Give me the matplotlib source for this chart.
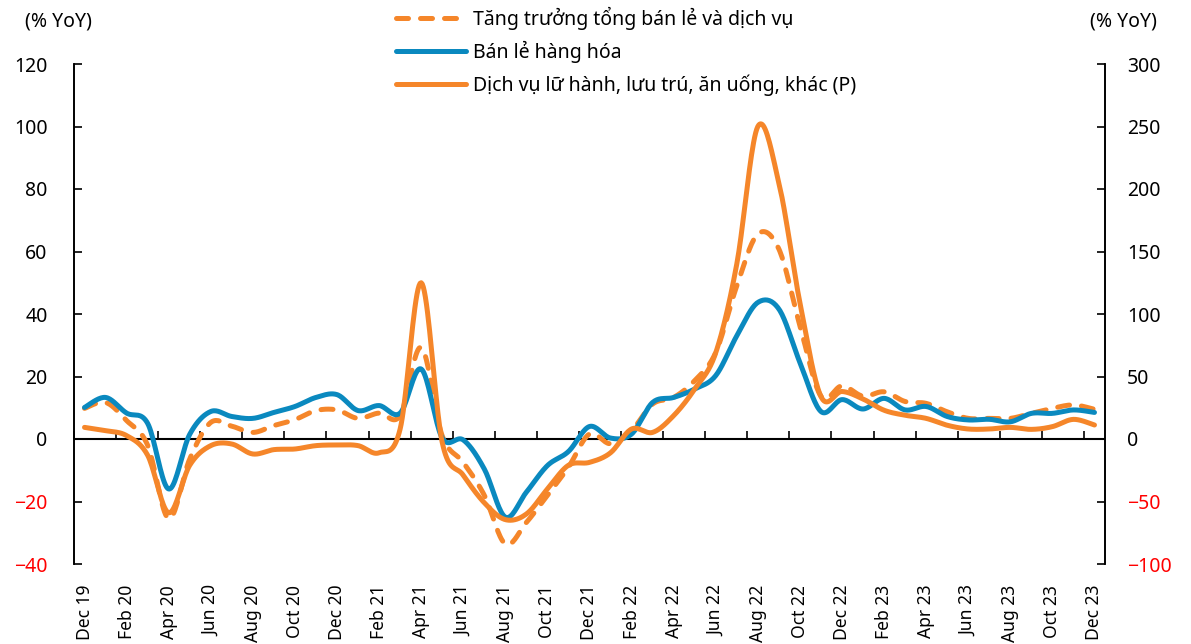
import matplotlib
matplotlib.use("Agg")
import matplotlib.pyplot as plt
import numpy as np

plt.rcParams['font.family'] = ['Noto Sans', 'DejaVu Sans']

# monthly, Dec 2019 .. Dec 2023
tick_labels = ['Dec 19', 'Feb 20', 'Apr 20', 'Jun 20', 'Aug 20', 'Oct 20', 'Dec 20',
               'Feb 21', 'Apr 21', 'Jun 21', 'Aug 21', 'Oct 21', 'Dec 21',
               'Feb 22', 'Apr 22', 'Jun 22', 'Aug 22', 'Oct 22', 'Dec 22',
               'Feb 23', 'Apr 23', 'Jun 23', 'Aug 23', 'Oct 23', 'Dec 23']

# left axis, % YoY
retail_total = [9.8, 11.7, 5.9, -2, -25.5, -6.4, 5.3, 4.1, 2.1, 4.3, 6.2, 9.1,
                9.3, 6.6, 8.3, 7.5, 29.3, 1, -7.5, -18, -33.6, -26.7, -18, -9,
                1.6, -1.5, 2.7, 11.2, 13.3, 18.7, 27.7, 49, 65.6, 60.8, 36.3, 13.7,
                17, 13.7, 15.1, 12, 11.4, 8.7, 6.6, 6.6, 6.6, 8.2, 9.8, 10.9, 9.5]
goods = [10.1, 13.3, 8.3, 5, -16, 1.5, 8.8, 7.2, 6.6, 8.5, 10.4, 13.3,
         14.2, 9.1, 10.7, 8.3, 22.4, 0.3, -0.3, -9.6, -25, -17, -8.5, -4,
         4, 0.3, 1.6, 11.7, 13.3, 16, 20.3, 33, 43.7, 41.6, 24.5, 8.8,
         12.6, 9.6, 13, 9.3, 10.4, 7.2, 6.1, 6.3, 5.5, 8.2, 8.2, 9.3, 8.5]
# right axis, % YoY
services = [9.3, 6.7, 2.7, -13, -59, -21, -5.3, -4, -12, -8.5, -8, -5.3,
            -4.8, -5.3, -11, 8, 125, -2.7, -29, -51, -64.5, -60, -40, -21,
            -18.7, -11, 8, 5.3, 18.7, 40, 69, 140, 250, 205, 109, 34,
            38, 32, 23, 19, 16.5, 11, 8, 8, 9.3, 7.7, 9.9, 15.7, 11.2]

legend_labels = ['Tăng trưởng tổng bán lẻ và dịch vụ', 'Bán lẻ hàng hóa',
                 'Dịch vụ lữ hành, lưu trú, ăn uống, khác (P)']

ORANGE = '#F5862A'
BLUE = '#0A89BF'
RED = '#FF0000'
FS = 14


def smooth(y, n=20):
    """Excel-style smoothed line (Bezier through the points)."""
    y = np.asarray(y, dtype=float)
    x = np.arange(len(y), dtype=float)
    px = np.concatenate([[x[0]], x, [x[-1]]])
    py = np.concatenate([[y[0]], y, [y[-1]]])
    t = np.linspace(0, 1, n, endpoint=False)
    xs, ys = [], []
    for i in range(len(y) - 1):
        x0, x1, x2, x3 = px[i:i + 4]
        y0, y1, y2, y3 = py[i:i + 4]
        cx1, cy1 = x1 + (x2 - x0) / 6, y1 + (y2 - y0) / 6
        cx2, cy2 = x2 - (x3 - x1) / 6, y2 - (y3 - y1) / 6
        b0, b1, b2, b3 = (1 - t) ** 3, 3 * t * (1 - t) ** 2, 3 * t ** 2 * (1 - t), t ** 3
        xs.append(b0 * x1 + b1 * cx1 + b2 * cx2 + b3 * x2)
        ys.append(b0 * y1 + b1 * cy1 + b2 * cy2 + b3 * y2)
    xs.append([x[-1]])
    ys.append([y[-1]])
    return np.concatenate(xs), np.concatenate(ys)


fig = plt.figure(figsize=(11.91, 6.44), dpi=100)
ax = fig.add_axes([74 / 1191, 1 - 564 / 644, (1105 - 74) / 1191, 500 / 644])
ax2 = ax.twinx()

n = len(goods)
l1, = ax.plot(*smooth(retail_total), color=ORANGE, lw=3.6, dashes=(2.4, 2.4),
              dash_capstyle='round', zorder=3)
l2, = ax.plot(*smooth(goods), color=BLUE, lw=3.6, solid_capstyle='round', zorder=4)
l3, = ax2.plot(*smooth(services), color=ORANGE, lw=3.6, solid_capstyle='round')

ax.set_xlim(-0.5, n - 0.5)
ax.set_ylim(-40, 120)
ax2.set_ylim(-100, 300)
ax.set_yticks(np.arange(-40, 121, 20))
ax2.set_yticks(np.arange(-100, 301, 50))

for a in (ax, ax2):
    a.spines['top'].set_visible(False)
    a.spines['bottom'].set_visible(False)
    for s in ('left', 'right'):
        a.spines[s].set_linewidth(1.2)

ax.tick_params(axis='y', direction='in', length=6, width=1.2, pad=19, labelsize=FS)
ax2.tick_params(axis='y', direction='in', length=6, width=1.2, pad=16, labelsize=FS)
for a in (ax, ax2):
    for lab, v in zip(a.get_yticklabels(), a.get_yticks()):
        lab.set_color(RED if v < 0 else 'black')

# month labels at the bottom
ax.set_xticks(np.arange(0, n, 2))
ax.set_xticklabels(tick_labels, rotation=90, fontsize=12.6)
ax.tick_params(axis='x', length=0, pad=15)

# zero line with its own ticks
ax.axhline(0, color='black', lw=1.5, zorder=2)
zero_ax = ax.secondary_xaxis(0.25)
zero_ax.spines['bottom'].set_visible(False)
zero_ax.set_xticks(np.arange(-0.5, n, 2))
zero_ax.tick_params(axis='x', direction='in', length=6, width=1.2, labelbottom=False)

fig.text(25 / 1191, 1 - 21 / 644, '(% YoY)', fontsize=FS, va='center', ha='left')
fig.text(1157 / 1191, 1 - 21 / 644, '(% YoY)', fontsize=FS, va='center', ha='right')

fig.legend([l1, l2, l3], legend_labels, loc='upper left',
           bbox_to_anchor=(382 / 1191, 1.011), frameon=False, fontsize=FS,
           handlelength=3.6, handletextpad=0.36, labelspacing=0.58, borderpad=0.2)

fig.savefig('out.png', dpi=100)
